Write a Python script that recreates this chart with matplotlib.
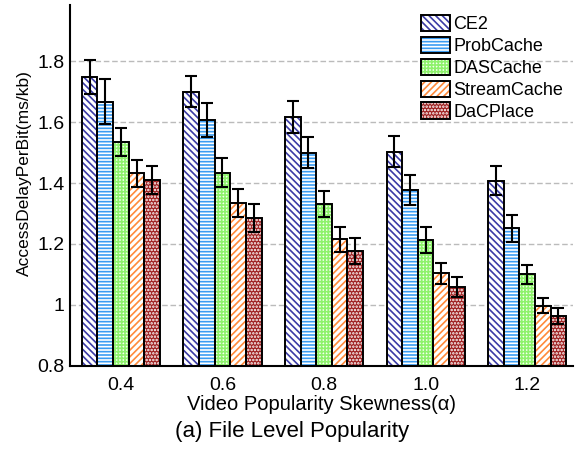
import matplotlib

matplotlib.use('Agg')
import matplotlib.pyplot as plt
import numpy as np
from matplotlib.patches import Patch

plt.rcParams['font.family'] = ['Liberation Sans', 'DejaVu Sans']
plt.rcParams['hatch.linewidth'] = 1.2

# Datos: retardo de acceso por bit para cada esquema de caché
skewness = ['0.4', '0.6', '0.8', '1.0', '1.2']
schemes = ['CE2', 'ProbCache', 'DASCache', 'StreamCache', 'DaCPlace']

ce2 = [1.748, 1.700, 1.617, 1.503, 1.408]
probcache = [1.667, 1.607, 1.500, 1.377, 1.251]
dascache = [1.535, 1.434, 1.331, 1.213, 1.100]
streamcache = [1.432, 1.335, 1.215, 1.104, 0.998]
dacplace = [1.410, 1.285, 1.178, 1.060, 0.964]

ce2_err = [0.057, 0.052, 0.053, 0.050, 0.048]
probcache_err = [0.075, 0.056, 0.052, 0.050, 0.043]
dascache_err = [0.045, 0.048, 0.044, 0.042, 0.032]
streamcache_err = [0.045, 0.045, 0.041, 0.034, 0.025]
dacplace_err = [0.047, 0.047, 0.043, 0.033, 0.025]

values = [ce2, probcache, dascache, streamcache, dacplace]
errors = [ce2_err, probcache_err, dascache_err, streamcache_err, dacplace_err]

# Estilo de cada serie: (relleno, color de trama, trama)
styles = [
    ('white', '#3b3ba6', '\\\\\\\\\\'),
    ('white', '#3a9cf2', '-----'),
    ('#f4fff0', '#8ef26c', '+++++'),
    ('white', '#ff8a3a', '/////'),
    ('#9e1f1f', 'white', '.....'),
]

fig = plt.figure(figsize=(5.84, 4.54), dpi=100)
ax = fig.add_axes([0.12, 0.194, 0.861, 0.795])

x = np.arange(1, len(skewness) + 1)
width = 0.154
offsets = (np.arange(len(schemes)) - 2) * width

for vals, errs, off, (fc, hc, hatch) in zip(values, errors, offsets, styles):
    # Primero la trama con su color, luego el contorno negro encima
    ax.bar(x + off, vals, width, facecolor=fc, edgecolor=hc,
           hatch=hatch, linewidth=0, zorder=2)
    ax.bar(x + off, vals, width, facecolor='none', edgecolor='black',
           linewidth=1.4, zorder=3)
    ax.errorbar(x + off, vals, yerr=errs, fmt='none', ecolor='black',
                elinewidth=1.5, capsize=4, capthick=1.5, zorder=4)

ax.set_xlim(0.5, 5.45)
ax.set_ylim(0.8, 1.984)
ax.set_xticks(x)
ax.set_xticklabels(skewness)
ax.set_yticks([0.8, 1.0, 1.2, 1.4, 1.6, 1.8])
ax.set_yticklabels(['0.8', '1', '1.2', '1.4', '1.6', '1.8'])
ax.tick_params(axis='both', length=0, labelsize=14)
ax.tick_params(axis='x', pad=8)
ax.tick_params(axis='y', pad=4)

ax.grid(True, axis='y', color='#bbbbbb', linestyle=(0, (4, 2)), linewidth=1.0, zorder=0)
ax.set_axisbelow(True)

for side in ['top', 'right']:
    ax.spines[side].set_visible(False)
ax.spines['left'].set_linewidth(1.5)
ax.spines['bottom'].set_linewidth(1.5)

ax.set_ylabel('AccessDelayPerBit(ms/kb)', fontsize=12.5)
ax.yaxis.set_label_coords(-0.075, 0.535)
ax.set_xlabel('Video Popularity Skewness(α)', fontsize=14.5, labelpad=0.5)
fig.text(0.5, 1 - 431 / 454, '(a) File Level Popularity', ha='center', va='center',
         fontsize=16)

handles = [Patch(facecolor=fc, edgecolor=hc, hatch=h, linewidth=0)
           for fc, hc, h in styles]
frames = [Patch(facecolor='none', edgecolor='black', linewidth=1.4) for _ in styles]
ax.legend([(h, f) for h, f in zip(handles, frames)], schemes,
          loc='upper right', bbox_to_anchor=(1.0, 1.0), frameon=False,
          fontsize=13, handlelength=1.65, handleheight=1.0,
          handletextpad=0.15, labelspacing=0.2, borderaxespad=0.15)

plt.savefig('out.png', dpi=100)
